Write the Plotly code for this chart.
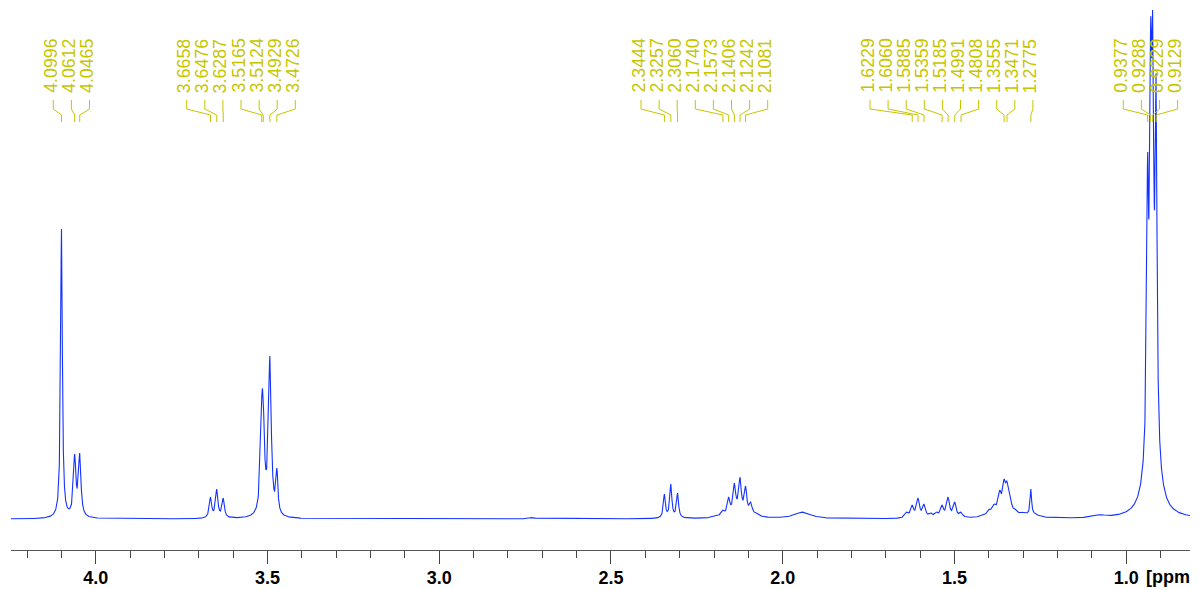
import numpy as np
import plotly.graph_objects as go

# ---------------- data ----------------
# resolved lines: position (ppm), apparent height (a.u.), half width (ppm)
line_ppm = [4.0996, 4.0612, 4.0465,
            3.6658, 3.6476, 3.6287,
            3.5165, 3.5124, 3.4929, 3.4726,
            2.3444, 2.3257, 2.3060,
            2.1900, 2.1740, 2.1573, 2.1406, 2.1242, 2.1081, 2.0930, 2.0750,
            1.6390, 1.6229, 1.6060, 1.5885, 1.5690,
            1.5520, 1.5359, 1.5185, 1.4991, 1.4808,
            1.4160, 1.3980, 1.3840, 1.3680, 1.3555, 1.3471, 1.3380, 1.3220, 1.3000,
            1.2775,
            0.9377, 0.9288, 0.9229, 0.9129]
line_height = [290, 65, 66,
               22, 30, 21,
               122, 123, 163, 51,
               25, 35, 26,
               4, 9, 22, 36, 42, 33, 17, 6,
               7, 14, 21, 15, 6,
               7, 14, 22, 17, 7,
               5, 10, 15, 29, 40, 38, 24, 10, 7,
               30,
               365, 500, 507, 445]
line_hw = [0.0030, 0.0042, 0.0042,
           0.0040, 0.0040, 0.0040,
           0.0045, 0.0045, 0.0047, 0.0035,
           0.0035, 0.0035, 0.0035,
           0.0060, 0.0050, 0.0040, 0.0040, 0.0040, 0.0040, 0.0050, 0.0070,
           0.0060, 0.0050, 0.0050, 0.0050, 0.0060,
           0.0060, 0.0050, 0.0050, 0.0050, 0.0050,
           0.0080, 0.0060, 0.0060, 0.0050, 0.0050, 0.0050, 0.0050, 0.0060, 0.0100,
           0.0025,
           0.0030, 0.0030, 0.0030, 0.0030]

# broad underlying humps: position (ppm), amplitude (a.u.), half width (ppm)
broad_ppm = [2.130, 1.942, 1.360, 1.270, 1.076, 0.925, 2.730]
broad_amp = [8.0, 6.5, 6.0, 3.0, 2.5, 180.0, 1.5]
broad_hw = [0.030, 0.028, 0.030, 0.020, 0.020, 0.013, 0.010]

# peak labels (groups as printed above the spectrum)
label_groups = [
    [4.0996, 4.0612, 4.0465],
    [3.6658, 3.6476, 3.6287, 3.5165, 3.5124, 3.4929, 3.4726],
    [2.3444, 2.3257, 2.3060, 2.1740, 2.1573, 2.1406, 2.1242, 2.1081],
    [1.6229, 1.6060, 1.5885, 1.5359, 1.5185, 1.4991, 1.4808, 1.3555, 1.3471, 1.2775],
    [0.9377, 0.9288, 0.9229, 0.9129],
]

tick_vals = [4.0, 3.5, 3.0, 2.5, 2.0, 1.5, 1.0]
tick_text = ["4.0", "3.5", "3.0", "2.5", "2.0", "1.5", "1.0"]
minor_vals = [4.2, 4.1, 3.9, 3.8, 3.7, 3.6, 3.4, 3.3, 3.2, 3.1, 2.9, 2.8, 2.7, 2.6,
              2.4, 2.3, 2.2, 2.1, 1.9, 1.8, 1.7, 1.6, 1.4, 1.3, 1.2, 1.1, 0.9, 0.8]

# ---------------- layout constants (reference pixel frame) ----------------
W, H = 1198, 590
OFF = 8                    # page body margin of the browser
REF_LEFT, REF_RIGHT = 11, 1198
REF_TOP, REF_AXIS = OFF, 550
REF_BASE = 519             # baseline pixel of the spectrum
PX4 = 95.7                 # pixel of 4.0 ppm
PXPP = 343.5               # pixels per ppm

ML = REF_LEFT - OFF
MR = W - (REF_RIGHT - OFF)
MT = REF_TOP - OFF
MB = H - (REF_AXIS - OFF)
PLOT_H = H - MT - MB
X_LEFT = 4.0 + (PX4 - REF_LEFT) / PXPP
X_RIGHT = 4.0 - (REF_RIGHT - PX4) / PXPP
Y_RANGE = [-(REF_AXIS - REF_BASE), REF_BASE - REF_TOP]

LABEL_COLOR = "#c6c600"
LABEL_FONT = "Liberation Sans"
AXIS_FONT = "Liberation Sans"
group_start_px = [53.3, 186.7, 641.0, 870.0, 1123.3]
label_step_px = 18.1


def px_to_ppm(px):
    return 4.0 - (px - PX4) / PXPP


def py_to_paper(py):
    return (REF_AXIS - py) / PLOT_H


def lor(x, c, w):
    return 1.0 / (1.0 + ((x - c) / w) ** 2)


# ---------------- build spectrum ----------------
P = np.array(line_ppm)
Hh = np.array(line_height, dtype=float)
Wd = np.array(line_hw)
Bp, Ba, Bw = np.array(broad_ppm), np.array(broad_amp), np.array(broad_hw)

Mmat = lor(P[:, None], P[None, :], Wd[None, :])
base_at_P = (Ba[None, :] * lor(P[:, None], Bp[None, :], Bw[None, :])).sum(axis=1)
amp = Hh.copy()
for _ in range(3000):
    model = Mmat @ amp + base_at_P
    amp *= Hh / model

x = np.arange(X_RIGHT, X_LEFT, 0.0002)
y = (amp[None, :] * lor(x[:, None], P[None, :], Wd[None, :])).sum(axis=1)
y += (Ba[None, :] * lor(x[:, None], Bp[None, :], Bw[None, :])).sum(axis=1)

fig = go.Figure()
fig.add_trace(go.Scatter(x=x, y=y, mode="lines",
                         line=dict(color="rgb(20,50,255)", width=1.1),
                         hoverinfo="skip"))

# ---------------- peak labels ----------------
annotations = []
shapes = []
for g, start in zip(label_groups, group_start_px):
    for k, v in enumerate(g):
        lx = start + k * label_step_px
        pkx = PX4 + (4.0 - v) * PXPP
        annotations.append(dict(
            x=px_to_ppm(lx - 2.5), y=py_to_paper(66), xref="x", yref="paper",
            text=f"{v:.4f}", textangle=-90, showarrow=False,
            xanchor="center", yanchor="middle", borderpad=0,
            font=dict(family=LABEL_FONT, size=17.8, color=LABEL_COLOR)))
        path = (f"M {px_to_ppm(lx)},{py_to_paper(100)} "
                f"L {px_to_ppm(lx)},{py_to_paper(109)} "
                f"L {px_to_ppm(pkx)},{py_to_paper(115)} "
                f"L {px_to_ppm(pkx)},{py_to_paper(122)}")
        shapes.append(dict(type="path", path=path, xref="x", yref="paper",
                           line=dict(color=LABEL_COLOR, width=1)))

annotations.append(dict(
    x=px_to_ppm(1197), y=py_to_paper(577), xref="x", yref="paper",
    text="[ppm]", showarrow=False, xanchor="right", yanchor="middle",
    borderpad=0,
    font=dict(family=AXIS_FONT, size=18, color="black", weight="bold")))

fig.update_layout(
    width=W, height=H,
    margin=dict(l=ML, r=MR, t=MT, b=MB),
    plot_bgcolor="white", paper_bgcolor="white",
    showlegend=False,
    annotations=annotations, shapes=shapes,
    xaxis=dict(range=[X_LEFT, X_RIGHT], showgrid=False, zeroline=False,
               showline=True, linecolor="#555", linewidth=1,
               ticks="outside", ticklen=13, tickwidth=1, tickcolor="#444",
               tickmode="array", tickvals=tick_vals, ticktext=tick_text,
               ticklabelstandoff=-2,
               tickfont=dict(family=AXIS_FONT, size=18, color="black", weight="bold"),
               minor=dict(tickmode="array", tickvals=minor_vals, ticks="outside",
                          ticklen=7, tickwidth=1, tickcolor="#444", showgrid=False),
               fixedrange=True),
    yaxis=dict(visible=False, range=Y_RANGE, fixedrange=True),
)

fig.write_html("out.html")
